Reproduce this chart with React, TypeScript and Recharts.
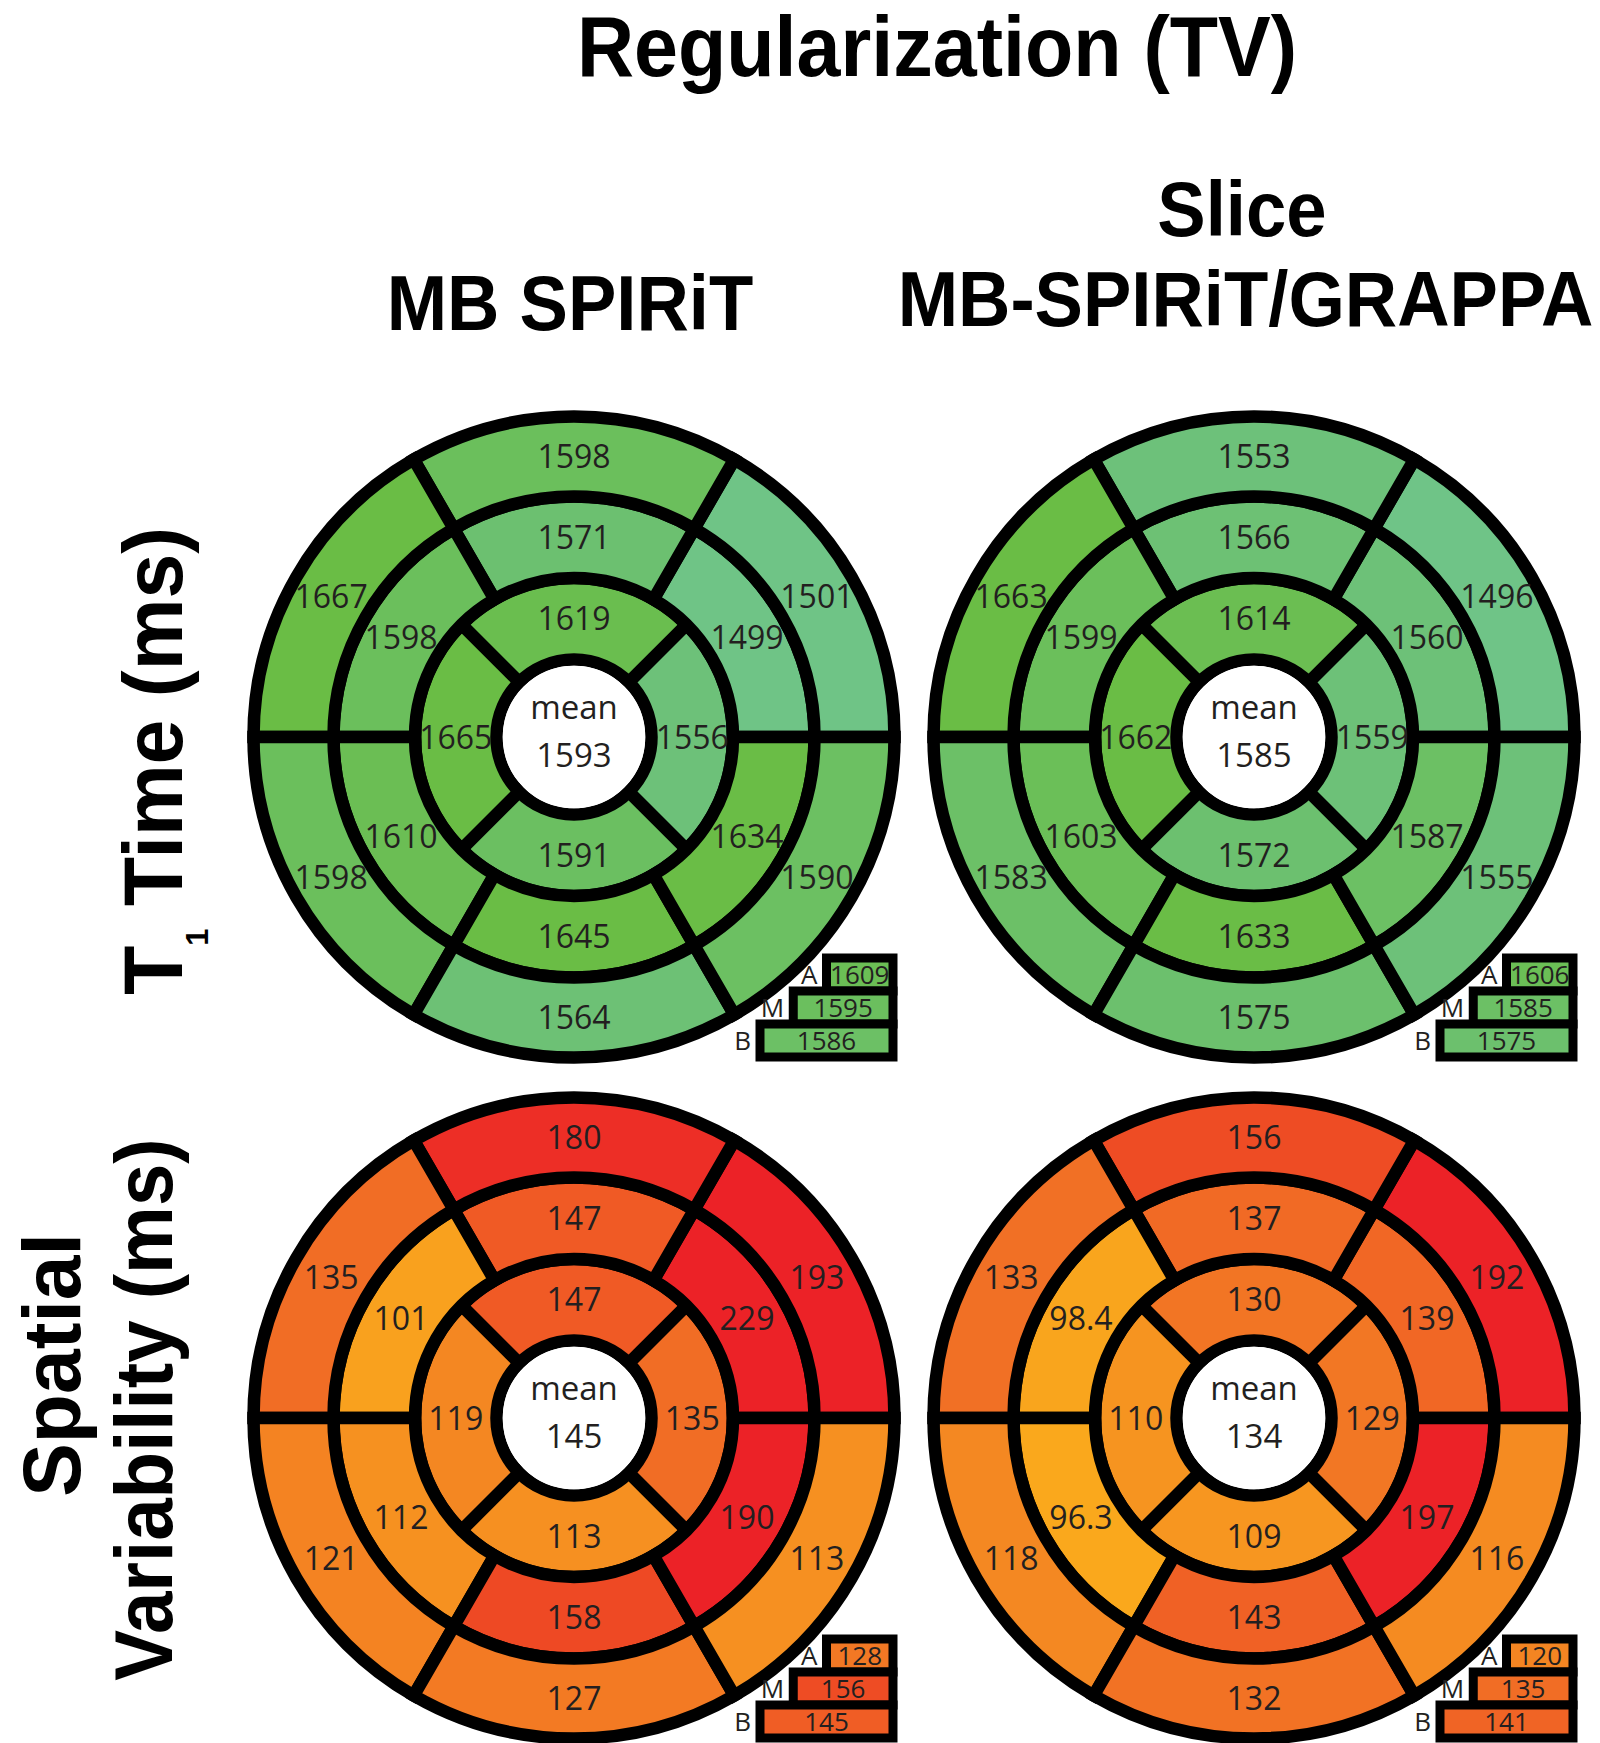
import React from "react";
import { PieChart, Pie, Cell, BarChart, Bar, XAxis, YAxis, LabelList } from "recharts";

// segment order — outer & middle rings: upper-right, top, upper-left, lower-left, bottom, lower-right
// inner ring: right, top, left, bottom
const t1SpiritOuter = [1501, 1598, 1667, 1598, 1564, 1590];
const t1SpiritMiddle = [1499, 1571, 1598, 1610, 1645, 1634];
const t1SpiritInner = [1556, 1619, 1665, 1591];
const t1SpiritMean = 1593;
const t1SpiritLevels = [1609, 1595, 1586];

const t1SliceOuter = [1496, 1553, 1663, 1583, 1575, 1555];
const t1SliceMiddle = [1560, 1566, 1599, 1603, 1633, 1587];
const t1SliceInner = [1559, 1614, 1662, 1572];
const t1SliceMean = 1585;
const t1SliceLevels = [1606, 1585, 1575];

const varSpiritOuter = [193, 180, 135, 121, 127, 113];
const varSpiritMiddle = [229, 147, 101, 112, 158, 190];
const varSpiritInner = [135, 147, 119, 113];
const varSpiritMean = 145;
const varSpiritLevels = [128, 156, 145];

const varSliceOuter = [192, 156, 133, 118, 132, 116];
const varSliceMiddle = [139, 137, 98.4, 96.3, 143, 197];
const varSliceInner = [129, 130, 110, 109];
const varSliceMean = 134;
const varSliceLevels = [120, 135, 141];

const levelNames = ["A", "M", "B"];
const columnTitles = ["MB SPIRiT", "MB-SPIRiT/GRAPPA"];

// colour maps (value -> colour)
const t1Stops: [number, string][] = [
  [1495, "#6fc487"],
  [1560, "#6dc178"],
  [1600, "#6bbf5a"],
  [1635, "#6abd45"],
];
const varStops: [number, string][] = [
  [95, "#faaa1c"],
  [115, "#f58d21"],
  [135, "#f16d25"],
  [160, "#ee4624"],
  [190, "#ec2227"],
];

const hex = (c: string) => [1, 3, 5].map((i) => parseInt(c.slice(i, i + 2), 16));
function colorOf(stops: [number, string][], v: number) {
  if (v <= stops[0][0]) return stops[0][1];
  const last = stops[stops.length - 1];
  if (v >= last[0]) return last[1];
  let i = 0;
  while (v > stops[i + 1][0]) i++;
  const t = (v - stops[i][0]) / (stops[i + 1][0] - stops[i][0]);
  const a = hex(stops[i][1]);
  const b = hex(stops[i + 1][1]);
  return "rgb(" + a.map((x, k) => Math.round(x + (b[k] - x) * t)).join(",") + ")";
}

const RAD = Math.PI / 180;
const TEXT = "#231f20";
const NUM_FONT = "'Open Sans', sans-serif";
const TITLE_FONT = "'Liberation Sans', Arial, sans-serif";

const SIZE = 680;
const C = SIZE / 2;
const R_CORE = 77.5;
const R_INNER = 159;
const R_MID = 240.5;
const R_OUT = 320.5;
const LINE = 12.5;

const X0 = 573.5;
const Y0 = 737.3;
const DX = 680;
const DY = 681;

const panels = [
  { outer: t1SpiritOuter, middle: t1SpiritMiddle, inner: t1SpiritInner, mean: t1SpiritMean, levels: t1SpiritLevels, stops: t1Stops, col: 0, row: 0 },
  { outer: t1SliceOuter, middle: t1SliceMiddle, inner: t1SliceInner, mean: t1SliceMean, levels: t1SliceLevels, stops: t1Stops, col: 1, row: 0 },
  { outer: varSpiritOuter, middle: varSpiritMiddle, inner: varSpiritInner, mean: varSpiritMean, levels: varSpiritLevels, stops: varStops, col: 0, row: 1 },
  { outer: varSliceOuter, middle: varSliceMiddle, inner: varSliceInner, mean: varSliceMean, levels: varSliceLevels, stops: varStops, col: 1, row: 1 },
];

const toSlices = (vals: number[]) => vals.map((v) => ({ reading: v, share: 1 }));

function ringLabel(props: any) {
  const { cx, cy, midAngle, innerRadius, outerRadius } = props;
  const reading = props.payload?.reading ?? props.reading;
  const r = (innerRadius + outerRadius) / 2;
  const x = cx + r * Math.cos(-midAngle * RAD);
  const y = cy + r * Math.sin(-midAngle * RAD);
  return (
    <text x={x} y={y + 11.5} textAnchor="middle" fill={TEXT} fontSize={32} fontFamily={NUM_FONT}>
      {reading}
    </text>
  );
}

function meanLabel(props: any) {
  const { cx, cy } = props;
  const reading = props.payload?.reading ?? props.reading;
  return (
    <g fill={TEXT} fontSize={33} fontFamily={NUM_FONT} textAnchor="middle">
      <text x={cx} y={cy - 18.5}>mean</text>
      <text x={cx} y={cy + 29.5}>{reading}</text>
    </g>
  );
}

function Bullseye({ p }: { p: (typeof panels)[number] }) {
  const rings = [
    { data: toSlices(p.inner), inner: R_CORE, outer: R_INNER, start: -45 },
    { data: toSlices(p.middle), inner: R_INNER, outer: R_MID, start: 0 },
    { data: toSlices(p.outer), inner: R_MID, outer: R_OUT, start: 0 },
  ];
  return (
    <PieChart width={SIZE} height={SIZE} margin={{ top: 0, right: 0, bottom: 0, left: 0 }}>
      {rings.map((ring, i) => (
        <Pie
          key={"s" + i}
          data={ring.data}
          dataKey="share"
          cx={C}
          cy={C}
          innerRadius={ring.inner}
          outerRadius={ring.outer}
          startAngle={ring.start}
          endAngle={ring.start + 360}
          stroke="#000"
          strokeWidth={LINE}
          isAnimationActive={false}
        >
          {ring.data.map((d, k) => (
            <Cell key={k} fill={colorOf(p.stops, d.reading)} stroke="#000" strokeWidth={LINE} />
          ))}
        </Pie>
      ))}
      {rings.map((ring, i) => (
        <Pie
          key={"l" + i}
          data={ring.data}
          dataKey="share"
          cx={C}
          cy={C}
          innerRadius={ring.inner}
          outerRadius={ring.outer}
          startAngle={ring.start}
          endAngle={ring.start + 360}
          fill="none"
          stroke="none"
          label={ringLabel}
          labelLine={false}
          isAnimationActive={false}
        />
      ))}
      <Pie
        data={[{ reading: p.mean, share: 1 }]}
        dataKey="share"
        cx={C}
        cy={C}
        innerRadius={0}
        outerRadius={R_CORE - LINE / 2}
        fill="#fff"
        stroke="none"
        label={meanLabel}
        labelLine={false}
        isAnimationActive={false}
      />
    </PieChart>
  );
}

function LevelBoxes({ p }: { p: (typeof panels)[number] }) {
  const rows = p.levels.map((v, i) => ({ level: levelNames[i], reading: v, pad: 2 - i, span: i + 2 }));
  return (
    <BarChart
      width={185}
      height={111}
      data={rows}
      layout="vertical"
      barCategoryGap={0}
      margin={{ top: 6, right: 8, bottom: 6, left: 44 }}
    >
      <XAxis type="number" domain={[0, 4]} hide />
      <YAxis type="category" dataKey="level" hide />
      <Bar dataKey="pad" stackId="s" fill="transparent" stroke="none" isAnimationActive={false} />
      <Bar dataKey="span" stackId="s" stroke="#000" strokeWidth={9} isAnimationActive={false}>
        {rows.map((r, k) => (
          <Cell key={k} fill={colorOf(p.stops, r.reading)} stroke="#000" strokeWidth={9} />
        ))}
        <LabelList dataKey="reading" position="center" fill={TEXT} fontSize={26} fontFamily={NUM_FONT} />
        <LabelList dataKey="level" position="left" offset={9} fill={TEXT} fontSize={26} fontFamily={NUM_FONT} />
      </Bar>
    </BarChart>
  );
}

function Titles() {
  const t = (x: number, y: number, size: number, s: string, sx = 0.93, rot = false) => (
    <g transform={`translate(${x},${y})${rot ? " rotate(-90)" : ""} scale(${sx},1)`}>
      <text x={0} y={0} textAnchor="middle" fontSize={size} fontWeight="bold" fontFamily={TITLE_FONT} fill="#000">
        {s}
      </text>
    </g>
  );
  return (
    <svg width={1600} height={1743} style={{ position: "absolute", left: 0, top: 0 }}>
      {t(937, 76, 85, "Regularization (TV)")}
      {t(570, 330, 78, columnTitles[0])}
      {t(1242, 236, 78, "Slice")}
      {t(1245.5, 326, 78, columnTitles[1])}
      <g transform="translate(181.7,761) rotate(-90) scale(0.96,1)">
        <text x={0} y={0} textAnchor="middle" fontSize={84} fontWeight="bold" fontFamily={TITLE_FONT} fill="#000">
          <tspan>T</tspan>
          <tspan fontSize={32} dy={26}>1</tspan>
          <tspan dy={-26}> Time (ms)</tspan>
        </text>
      </g>
      {t(80, 1365, 82, "Spatial", 0.98, true)}
      {t(171.7, 1409.5, 82, "Variability (ms)", 0.93, true)}
    </svg>
  );
}

export default function App() {
  return (
    <div style={{ position: "absolute", left: 0, top: 0, width: 1600, height: 1743, background: "#fff" }}>
      <Titles />
      {panels.map((p, i) => {
        const cx = X0 + p.col * DX;
        const cy = Y0 + p.row * DY;
        return (
          <React.Fragment key={i}>
            <div style={{ position: "absolute", left: cx - C, top: cy - C }}>
              <Bullseye p={p} />
            </div>
            <div style={{ position: "absolute", left: cx + 142, top: cy + 215 }}>
              <LevelBoxes p={p} />
            </div>
          </React.Fragment>
        );
      })}
    </div>
  );
}
